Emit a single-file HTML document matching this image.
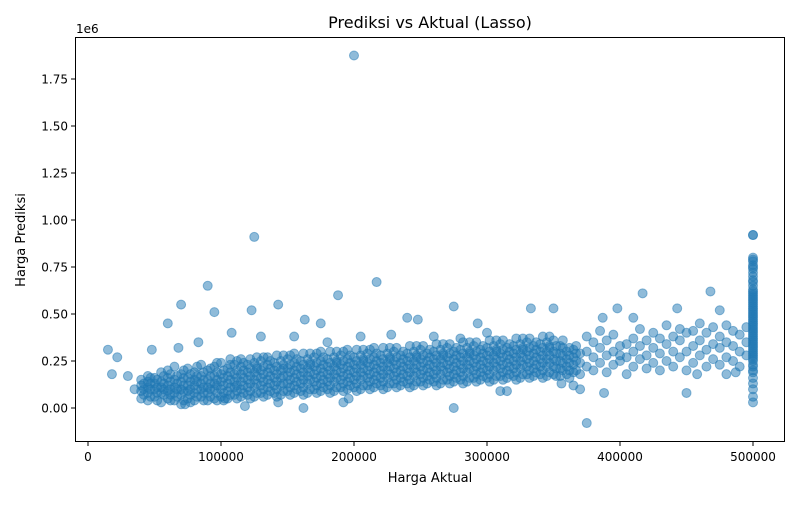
<!DOCTYPE html>
<html><head><meta charset="utf-8"><style>
body{margin:0;background:#fff;}
svg text{font-family:"DejaVu Sans","Liberation Sans",sans-serif;fill:#000;}
</style></head><body>
<svg id="chart" width="800" height="500" xmlns="http://www.w3.org/2000/svg">
<rect width="800" height="500" fill="#fff"/>
<text x="430" y="28" font-size="16" text-anchor="middle">Prediksi vs Aktual (Lasso)</text>
<text x="430" y="482" font-size="13" text-anchor="middle">Harga Aktual</text>
<text transform="translate(25,240) rotate(-90)" font-size="13" text-anchor="middle">Harga Prediksi</text>
<text x="76" y="33" font-size="12">1e6</text>
<g id="points"></g>
<g id="axes"></g>
<rect x="75.5" y="37.5" width="709" height="404" fill="none" stroke="#000" stroke-width="1"/>
</svg>
<script>
const xTicks=[0,100000,200000,300000,400000,500000];
const yTicks=[0,0.25,0.5,0.75,1.0,1.25,1.5,1.75];
const coreX=[40,45,50,55,60,65,70,75,80,85,90,95,100,105,110,115,120,125,130,135,140,145,150,155,160,165,170,175,180,185,190,195,200,205,210,215,220,225,230,235,240,245,250,255,260,265,270,275,280,285,290,295,300,305,310,315,320,325,330,335,340,345,350,355,360,365,370];
const coreY=[
[.05,.09,.12,.15],[.04,.08,.11,.14,.17],[.06,.1,.13,.16],[.03,.08,.11,.14,.19],[.05,.09,.12,.16,.2],[.04,.08,.11,.15,.22],[.02,.07,.1,.14,.18],[.05,.09,.12,.16,.21],[.04,.08,.12,.15,.19],[.06,.1,.13,.17,.23],[.04,.08,.11,.15,.2],[.05,.1,.13,.17,.22],[.06,.1,.14,.18,.24],[.05,.09,.13,.17,.21],[.07,.11,.14,.18,.23],[.06,.1,.14,.18,.22,.26],[.07,.11,.15,.19,.23],[.06,.11,.15,.19,.24],[.08,.12,.16,.2,.25],[.07,.11,.15,.19,.23,.27],[.08,.12,.16,.2,.24],[.07,.12,.16,.2,.25],[.09,.13,.17,.21,.26],[.08,.12,.16,.2,.24,.29],[.09,.13,.17,.21,.25],[.08,.13,.17,.21,.26],[.1,.14,.18,.22,.27],[.09,.13,.17,.21,.25,.3],[.1,.14,.18,.22,.26],[.09,.14,.18,.22,.27],[.11,.15,.19,.23,.28],[.1,.14,.18,.22,.26,.31],[.11,.15,.19,.23,.27],[.1,.15,.19,.23,.28],[.12,.16,.2,.24,.29],[.11,.15,.19,.23,.27,.32],[.12,.16,.2,.24,.28],[.11,.16,.2,.24,.29],[.13,.17,.21,.25,.3],[.12,.16,.2,.24,.28],[.13,.17,.21,.25,.29],[.12,.17,.21,.25,.3],[.14,.18,.22,.26,.31],[.13,.17,.21,.25,.29],[.14,.18,.22,.26,.3],[.13,.18,.22,.26,.31],[.15,.19,.23,.27,.32],[.14,.18,.22,.26,.3],[.15,.19,.23,.27,.31],[.14,.19,.23,.27,.32],[.16,.2,.24,.28,.33],[.15,.19,.23,.27,.31],[.16,.2,.24,.28,.32],[.15,.2,.24,.28,.33],[.17,.21,.25,.29,.34],[.16,.2,.24,.28,.32],[.17,.21,.25,.29,.33],[.16,.21,.25,.29,.34],[.18,.22,.26,.3,.35],[.17,.21,.25,.29,.33],[.18,.22,.26,.3,.34],[.17,.22,.26,.3,.35],[.18,.22,.26,.3,.36],[.17,.21,.25,.29,.33],[.18,.22,.26,.3],[.19,.23,.27,.31],[.18,.24,.29]];
const coreX2=[42,47,52,57,62,67,72,77,82,87,92,97,102,107,112,117,122,127,132,137,142,147,152,157,162,167,172,177,182,187,192,197,202,207,212,217,222,227,232,237,242,247,252,257,262,267,272,277,282,287,292,297,302,307,312,317,322,327,332,337,342,347,352,357,362,367];
const coreY2=[
[.07,.1,.13],[.06,.1,.13,.16],[.04,.08,.11,.15],[.07,.1,.13,.17],[.04,.07,.1,.14,.18],[.06,.1,.13,.17],[.04,.09,.12,.16,.2],[.03,.07,.1,.14,.18],[.06,.1,.14,.17,.22],[.04,.08,.11,.15,.19],[.06,.1,.13,.17,.21],[.04,.08,.12,.15,.19,.24],[.04,.08,.12,.16,.2],[.07,.11,.15,.19,.23,.26],[.05,.09,.12,.16,.2,.25],[.08,.12,.16,.2,.24],[.05,.09,.13,.17,.21,.26],[.08,.13,.17,.21,.22,.27],[.06,.1,.14,.18,.22,.27],[.09,.13,.17,.21,.25],[.06,.1,.14,.18,.22,.28],[.09,.13,.17,.21,.23,.28],[.07,.11,.15,.19,.23,.28],[.1,.14,.18,.22,.26],[.07,.11,.15,.19,.23,.29],[.1,.15,.19,.23,.24,.29],[.08,.12,.16,.2,.24,.29],[.11,.15,.19,.23,.27],[.08,.12,.16,.2,.24,.3],[.11,.16,.2,.24,.25,.3],[.09,.13,.17,.21,.25,.3],[.12,.16,.2,.24,.28],[.09,.13,.17,.21,.25,.31],[.12,.17,.21,.25,.26,.31],[.1,.14,.18,.22,.26,.31],[.13,.17,.21,.25,.29],[.1,.14,.18,.22,.26,.32],[.13,.18,.22,.26,.27,.32],[.11,.15,.19,.23,.27,.32],[.14,.18,.22,.26,.3],[.11,.15,.19,.23,.27,.33],[.14,.19,.23,.27,.28,.33],[.12,.16,.2,.24,.28,.33],[.15,.19,.23,.27,.31],[.12,.16,.2,.24,.28,.34],[.15,.2,.24,.28,.29,.34],[.13,.17,.21,.25,.29,.34],[.16,.2,.24,.28,.32],[.13,.17,.21,.25,.29,.35],[.16,.21,.25,.29,.3,.35],[.14,.18,.22,.26,.3,.35],[.17,.21,.25,.29,.33],[.14,.18,.22,.26,.3,.36],[.17,.22,.26,.3,.31,.36],[.15,.19,.23,.27,.31,.36],[.18,.22,.26,.3,.34],[.15,.19,.23,.27,.31,.37],[.18,.23,.27,.31,.32,.37],[.16,.2,.24,.28,.32,.37],[.19,.23,.27,.31,.35],[.16,.2,.24,.28,.32,.38],[.19,.24,.28,.32,.33,.38],[.17,.21,.25,.29,.33],[.2,.24,.28,.32,.36],[.16,.2,.24,.28,.32],[.2,.25,.29,.33]];
const sparseX=[375,380,385,390,395,400,405,410,415,420,425,430,435,440,445,450,455,460,465,470,475,480,485,490,495];
const sparseY=[[.22,.3,.38],[.2,.27,.35],[.24,.32,.41],[.19,.28,.36],[.23,.3,.39],[.25,.33,.28],[.18,.27,.34],[.22,.3,.37],[.26,.33,.42],[.21,.28,.36],[.24,.32,.4],[.2,.29,.37],[.25,.34,.44],[.22,.3,.38],[.27,.36,.42],[.2,.3,.4],[.24,.33,.41],[.28,.36,.45],[.22,.31,.4],[.26,.34,.43],[.23,.32,.38],[.27,.35,.44],[.25,.33,.41],[.22,.3,.39],[.28,.35,.43]];
const colX=500;
const colY=[.03,.06,.1,.13,.16,.19,.22,.25,.27,.29,.31,.33,.35,.37,.39,.41,.43,.45,.47,.49,.51,.53,.55,.57,.59,.61,.63,.65,.67,.7,.72,.74,.76,.78,.8,.92,.2,.23,.26,.28,.3,.32,.34,.36,.38,.4,.42,.44,.46,.48,.5,.52,.54,.56,.58,.6,.62,.68,.75,.79];
const outX=[200,125,500,90,217,188,70,143,123,95,60,375,275,162,118,15,18,22,30,35,468,417,333,350,443,275,387,398,450,388,370,48,163,240,248,175,293,410,475,480,487,458,310,315,356,365,73,192,196,143,103,68,83,108,130,155,180,205,228,260,280,300];
const outY=[1.875,.91,.92,.65,.67,.6,.55,.55,.52,.51,.45,-.08,0,0,.01,.31,.18,.27,.17,.1,.62,.61,.53,.53,.53,.54,.48,.53,.08,.08,.1,.31,.47,.48,.47,.45,.45,.48,.52,.18,.19,.18,.09,.09,.13,.12,.02,.03,.05,.03,.05,.32,.35,.4,.38,.38,.35,.38,.39,.38,.37,.4];
const X0=88,XS=133/100000,Y0=408,YS=188;
function sx(v){return X0+v*XS;}
function sy(v){return Y0-v*YS;}
const NS="http://www.w3.org/2000/svg";
const pts=document.getElementById('points');
function dot(a,p){
  const c=document.createElementNS(NS,'circle');
  c.setAttribute('cx',sx(a));c.setAttribute('cy',sy(p));c.setAttribute('r',4.5);
  c.setAttribute('fill','#1f77b4');c.setAttribute('fill-opacity','0.5');
  c.setAttribute('stroke','#1f77b4');c.setAttribute('stroke-opacity','0.5');c.setAttribute('stroke-width','1');
  
  
  pts.appendChild(c);
}
coreX.forEach((x,i)=>coreY[i].forEach(y=>dot(x*1000,y)));
coreX2.forEach((x,i)=>coreY2[i].forEach(y=>dot(x*1000,y)));
sparseX.forEach((x,i)=>sparseY[i].forEach(y=>dot(x*1000,y)));
colY.forEach(y=>dot(colX*1000,y));
outX.forEach((x,i)=>dot(x*1000,outY[i]));
const ax=document.getElementById('axes');
xTicks.forEach(t=>{
  const l=document.createElementNS(NS,'line');
  l.setAttribute('x1',sx(t));l.setAttribute('x2',sx(t));l.setAttribute('y1',442);l.setAttribute('y2',446);l.setAttribute('stroke','#000');
  
  
  ax.appendChild(l);
  const tx=document.createElementNS(NS,'text');
  tx.setAttribute('x',sx(t));tx.setAttribute('y',461);tx.setAttribute('font-size','12');tx.setAttribute('text-anchor','middle');
  tx.textContent=String(t);
  
  
  ax.appendChild(tx);
});
yTicks.forEach(t=>{
  const l=document.createElementNS(NS,'line');
  l.setAttribute('x1',71);l.setAttribute('x2',75);l.setAttribute('y1',sy(t));l.setAttribute('y2',sy(t));l.setAttribute('stroke','#000');
  
  
  ax.appendChild(l);
  const tx=document.createElementNS(NS,'text');
  tx.setAttribute('x',68);tx.setAttribute('y',sy(t)+4.5);tx.setAttribute('font-size','12');tx.setAttribute('text-anchor','end');
  tx.textContent=t.toFixed(2);
  
  
  ax.appendChild(tx);
});
</script>
</body></html>
